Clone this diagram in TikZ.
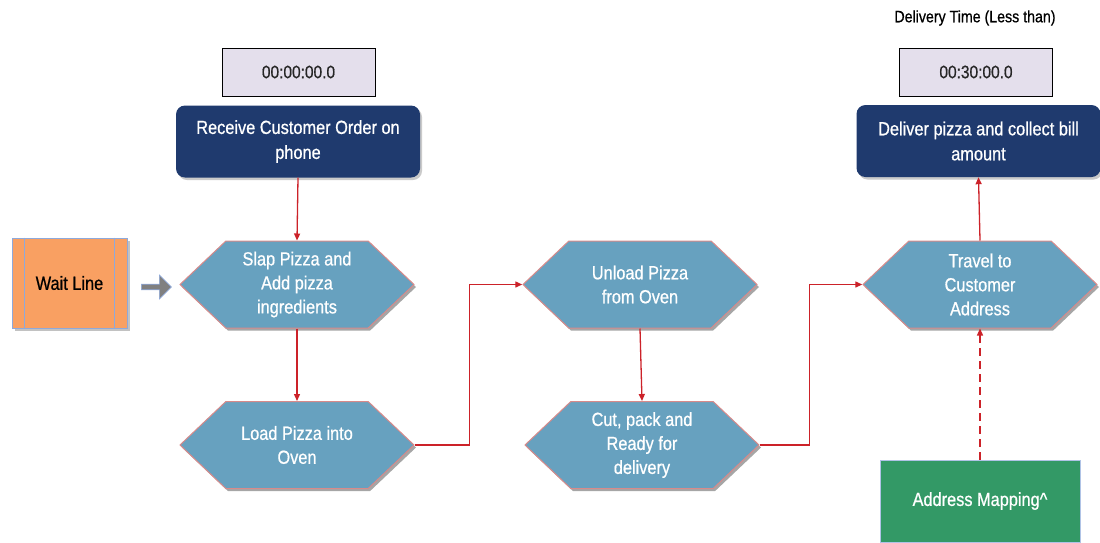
\documentclass[tikz,border=0pt]{standalone}
\usepackage{fontspec}
\setmainfont{Liberation Sans}[FakeStretch=0.86,FakeBold=0.7]
\usetikzlibrary{shapes.symbols,shapes.arrows,shadows,arrows.meta}
\definecolor{navy}{HTML}{1F3A6E}
\definecolor{hexfill}{HTML}{67A1BF}
\definecolor{hexedge}{HTML}{D88A8A}
\definecolor{timefill}{HTML}{E4DFEC}
\definecolor{waitfill}{HTML}{F9A062}
\definecolor{waitedge}{HTML}{8EA9DB}
\definecolor{mapfill}{HTML}{339966}
\definecolor{linkred}{HTML}{CC2229}
\tikzset{
  hexbox/.style={signal, signal to=west and east, signal pointer angle=87,
    minimum width=234pt, minimum height=87pt, inner sep=0pt,
    fill=hexfill, draw=hexedge, line width=1pt, text=white, align=center,
    font=\fontsize{19}{24}\selectfont,
    drop shadow={shadow xshift=2pt, shadow yshift=-2.5pt, fill=black!50, opacity=0.7}},
  navybox/.style={rectangle, rounded corners=9pt, fill=navy, text=white,
    minimum width=244pt, minimum height=72pt, align=center, inner sep=0pt,
    font=\fontsize{19}{25}\selectfont,
    drop shadow={shadow xshift=2pt, shadow yshift=-2.5pt, fill=black!35, opacity=0.6}},
  timebox/.style={rectangle, fill=timefill, draw=black, line width=1pt,
    minimum width=153pt, minimum height=48pt, text=black!85,
    font=\fontsize{18}{20}\selectfont},
  conn/.style={draw=linkred, line width=1.3pt, -{Triangle[length=7pt,width=6pt]}},
}
\begin{document}
\begin{tikzpicture}[x=1pt,y=-1pt]
\useasboundingbox (0,0) rectangle (1100,542);

% time labels
\node[font=\fontsize{16.5}{19}\selectfont, text=black] (dtl) at (975,18) {Delivery Time (Less than)};
\node[timebox] (t0) at (298.5,72) {00:00:00.0};
\node[timebox] (t1) at (976,72) {00:30:00.0};

% navy boxes
\node[navybox] (recv) at (298,141.5) {Receive Customer Order on\\phone};
\node[navybox] (deliv) at (978.5,141) {Deliver pizza and collect bill\\amount};

% hexagons
\node[hexbox] (slap) at (297,284.5) {Slap Pizza and\\Add pizza\\ingredients};
\node[hexbox] (load) at (297,445) {Load Pizza into\\Oven};
\node[hexbox] (unload) at (640,284.5) {Unload Pizza\\from Oven};
\node[hexbox] (cut) at (642,445) {Cut, pack and\\Ready for\\delivery};
\node[hexbox] (travel) at (980,284.5) {Travel to\\Customer\\Address};

% wait line
\node[rectangle, fill=waitfill, draw=waitedge, line width=1pt,
  minimum width=115pt, minimum height=90pt, inner sep=0pt,
  font=\fontsize{19}{22}\selectfont, text=black,
  drop shadow={shadow xshift=2.5pt, shadow yshift=-2.5pt, fill=black!40, opacity=0.6}]
  (wait) at (69.5,283) {Wait Line};
\draw[waitedge, line width=1pt] ([xshift=13pt]wait.north west) -- ([xshift=13pt]wait.south west);
\draw[waitedge, line width=1pt] ([xshift=-13pt]wait.north east) -- ([xshift=-13pt]wait.south east);

% gray block arrow
\node[single arrow, fill=black!50, draw=waitedge, line width=0.6pt,
  minimum height=30pt, minimum width=24pt, single arrow head extend=1pt,
  inner sep=0pt] (garrow) at (155,287) {};

% address mapping
\node[rectangle, fill=mapfill, draw=waitedge!70, line width=1pt,
  minimum width=200pt, minimum height=82pt, text=white,
  font=\fontsize{19}{22}\selectfont] (addr) at (980,501) {Address Mapping\textasciicircum};

% connectors
\draw[conn] (recv.south) -- (slap.north);
\draw[conn] (slap.south) -- (load.north);
\draw[conn] (load.east) -- ++(55,0) |- (unload.west);
\draw[conn] (unload.south) -- (cut.north);
\draw[conn] (cut.east) -- ++(50,0) |- (travel.west);
\draw[conn] (travel.north) -- (deliv.south);
\draw[conn, dash pattern=on 8pt off 5pt] (addr.north) -- (travel.south);
\end{tikzpicture}
\end{document}
